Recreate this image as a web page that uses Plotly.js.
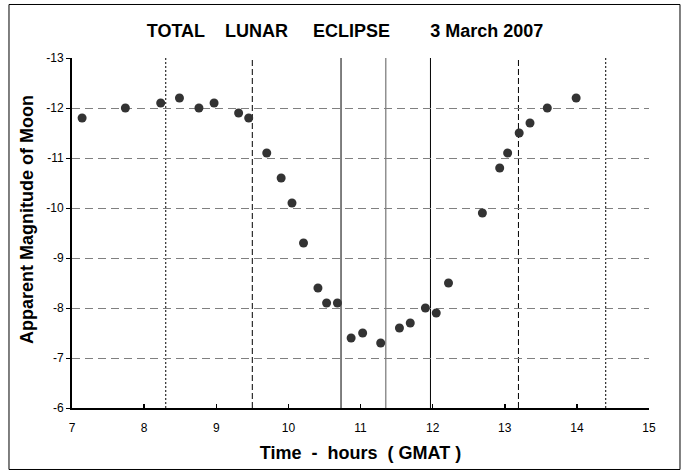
<!DOCTYPE html>
<html>
<head>
<meta charset="utf-8">
<script src="https://cdn.plot.ly/plotly-3.0.1.min.js"></script>
<style>html,body{margin:0;padding:0;background:#fff;} #chart{width:682px;height:472px;}</style>
</head>
<body>
<div id="chart"></div>
<script>
// Observation times (hours GMAT) and apparent magnitudes
var times = [7.14, 7.74, 8.23, 8.49, 8.76, 8.97, 9.31, 9.45, 9.70, 9.90,
             10.05, 10.21, 10.41, 10.53, 10.68, 10.87, 11.03, 11.28, 11.54, 11.69,
             11.90, 12.05, 12.22, 12.69, 12.93, 13.04, 13.20, 13.35, 13.59, 13.99];
var mags = [-11.8, -12.0, -12.1, -12.2, -12.0, -12.1, -11.9, -11.8, -11.1, -10.6,
            -10.1, -9.3, -8.4, -8.1, -8.1, -7.4, -7.5, -7.3, -7.6, -7.7,
            -8.0, -7.9, -8.5, -9.9, -10.8, -11.1, -11.5, -11.7, -12.0, -12.2];

// Eclipse contact times (hours GMAT): P1, U1, U2, mid, U3, U4, P4
var phaseTimes = [8.30, 9.50, 10.73, 11.35, 11.97, 13.19, 14.40];

var xTickVals = [7, 8, 9, 10, 11, 12, 13, 14, 15];
var xTickText = ['7', '8', '9', '10', '11', '12', '13', '14', '15'];
var yTickVals = [-13, -12, -11, -10, -9, -8, -7, -6];
var yTickText = ['-13', '-12', '-11', '-10', '-9', '-8', '-7', '-6'];

var phaseStyles = [
  {color: '#000000', width: 1, dash: '2px,2px'},
  {color: '#000000', width: 1, dash: '6px,3px'},
  {color: '#000000', width: 1, dash: 'solid'},
  {color: '#909090', width: 1.5, dash: 'solid'},
  {color: '#000000', width: 1, dash: 'solid'},
  {color: '#000000', width: 1, dash: '6px,3px'},
  {color: '#000000', width: 1, dash: '2px,2px'}
];

var FONT = 'Liberation Sans, Arial, Helvetica, sans-serif';

var shapes = phaseTimes.map(function (t, i) {
  return {
    type: 'line', xref: 'x', yref: 'paper', x0: t, x1: t, y0: 0, y1: 1,
    layer: 'between', line: phaseStyles[i]
  };
});
// outer chart frame
shapes.push({
  type: 'rect', xref: 'paper', yref: 'paper',
  x0: -0.1092, x1: 1.0537, y0: -0.1757, y1: 1.1529,
  line: {color: '#000000', width: 1}, fillcolor: 'rgba(0,0,0,0)', layer: 'above'
});

var trace = {
  type: 'scatter', mode: 'markers', x: times, y: mags,
  marker: {color: '#333333', size: 9, line: {width: 0}},
  hoverinfo: 'x+y', showlegend: false
};

var layout = {
  width: 682, height: 472,
  margin: {l: 72, r: 33, t: 58, b: 64, pad: 0},
  paper_bgcolor: '#ffffff', plot_bgcolor: '#ffffff',
  font: {family: FONT, color: '#000000', size: 12},
  title: {
    text: 'TOTAL\u00a0\u00a0\u00a0\u00a0LUNAR\u00a0\u00a0\u00a0\u00a0\u00a0ECLIPSE\u00a0\u00a0\u00a0\u00a0\u00a0\u00a0\u00a0\u00a03 March 2007',
    font: {family: FONT, size: 18, color: '#000000', weight: 'bold'},
    xref: 'container', x: 345 / 682, xanchor: 'center',
    yref: 'container', y: 1 - 31 / 472, yanchor: 'middle'
  },
  xaxis: {
    range: [7, 15], tickmode: 'array', tickvals: xTickVals, ticktext: xTickText,
    ticks: 'inside', ticklen: 4, tickwidth: 1.5, tickcolor: '#000000',
    showline: true, linewidth: 2, linecolor: '#000000',
    showgrid: false, zeroline: false,
    tickfont: {family: FONT, size: 12, color: '#000000'},
    ticklabelstandoff: 8,
    title: {
      text: 'Time\u00a0\u00a0-\u00a0\u00a0hours\u00a0\u00a0(\u00a0GMAT\u00a0)',
      font: {family: FONT, size: 18, color: '#000000', weight: 'bold'},
      standoff: 12
    },
    fixedrange: true
  },
  yaxis: {
    range: [-6, -13], tickmode: 'array', tickvals: yTickVals, ticktext: yTickText,
    ticks: 'outside', ticklen: 4, tickwidth: 1, tickcolor: '#000000',
    showline: true, linewidth: 2, linecolor: '#000000',
    showgrid: true, gridcolor: '#808080', gridwidth: 1, griddash: '8px,5px',
    zeroline: false,
    tickfont: {family: FONT, size: 12, color: '#000000'},
    fixedrange: true
  },
  shapes: shapes,
  annotations: [{
    text: 'Apparent Magnitude of Moon',
    xref: 'paper', yref: 'paper',
    x: (27 - 72) / 577, y: (408 - 220) / 350,
    xanchor: 'center', yanchor: 'middle', textangle: -90, showarrow: false,
    font: {family: FONT, size: 18, color: '#000000', weight: 'bold'}
  }]
};

Plotly.newPlot('chart', [trace], layout, {staticPlot: true, displayModeBar: false});
</script>
</body>
</html>
